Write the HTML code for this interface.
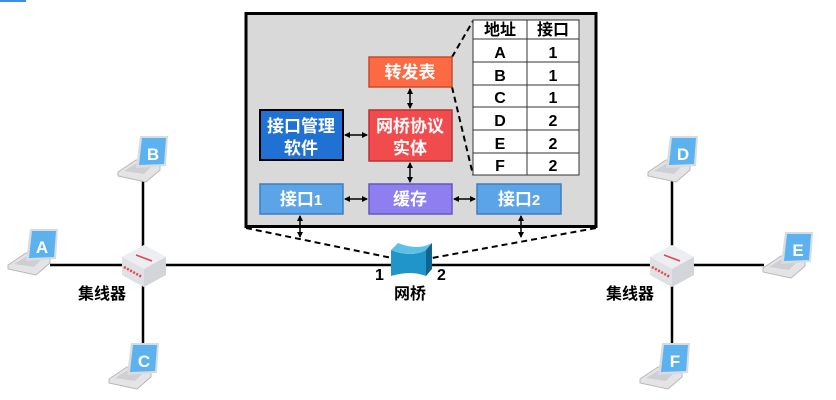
<!DOCTYPE html>
<html><head><meta charset="utf-8"><style>
body{margin:0;background:#fff;}
svg{display:block;font-family:"Liberation Sans","Noto Sans CJK SC",sans-serif;}
</style></head><body>
<svg width="836" height="400" viewBox="0 0 836 400">
<defs>
<marker id="ah" markerWidth="6" markerHeight="6" refX="5" refY="3" orient="auto-start-reverse" markerUnits="userSpaceOnUse"><path d="M0,0 L6,3 L0,6 z" fill="#000"/></marker>
<g id="lap">
<polygon points="-22,36 -4,24 20,24 20,34 6,46 -22,40" fill="#e4e4e6" stroke="#b8b8bc" stroke-width="1"/>
<polygon points="-16,35 -3,27 15,27 4,38" fill="#cfcfd3"/>
<polygon points="0,0 28,0 26,30 -4,32" fill="#d8dbe0"/>
<polygon points="2,2 26,2 24,28 -1,29" fill="#5bb2ee"/>
</g>
<g id="hub">
<polygon points="-22,-8 0,-20 22,-8 22,10 0,22 -22,10" fill="#d4d5da"/>
<polygon points="-22,-8 0,-20 22,-8 0,4" fill="#eceef1"/>
<polygon points="-22,-8 0,4 0,22 -22,10" fill="#e0e1e5"/>
<line x1="-8" y1="-10" x2="8" y2="-4" stroke="#e0464e" stroke-width="1.5"/>
<line x1="-20" y1="2" x2="-2" y2="12" stroke="#e0464e" stroke-width="2.5" stroke-dasharray="2,1.5"/>
</g>
</defs>
<rect x="0" y="0" width="26" height="2" fill="#3a8ee6"/>
<g stroke="#000" stroke-width="2.5">
<line x1="50" y1="265" x2="764" y2="265"/>
<line x1="143" y1="180" x2="143" y2="345"/>
<line x1="672" y1="180" x2="672" y2="345"/>
</g>
<rect x="246" y="13.5" width="350" height="213" fill="#d9d9d9" stroke="#000" stroke-width="3"/>
<g stroke="#000" stroke-width="2" stroke-dasharray="6,4" fill="none">
<line x1="246" y1="228" x2="392" y2="258"/>
<line x1="596" y1="228" x2="432" y2="258"/>
<line x1="452" y1="57" x2="473" y2="21"/>
<line x1="452" y1="87" x2="473" y2="175"/>
</g>
<g stroke="#333" stroke-width="1" fill="#fff">
<rect x="473" y="20" width="106" height="155"/>
<line x1="527" y1="20" x2="527" y2="175"/>
<line x1="473" y1="39" x2="579" y2="39"/>
<line x1="473" y1="62" x2="579" y2="62"/>
<line x1="473" y1="85" x2="579" y2="85"/>
<line x1="473" y1="107" x2="579" y2="107"/>
<line x1="473" y1="130" x2="579" y2="130"/>
<line x1="473" y1="153" x2="579" y2="153"/>
</g>
<g font-size="16" font-weight="bold" text-anchor="middle" fill="#000">
<text x="500" y="35">地址</text><text x="553" y="35">接口</text>
<text x="500" y="58">A</text><text x="553" y="58">1</text>
<text x="500" y="81">B</text><text x="553" y="81">1</text>
<text x="500" y="103">C</text><text x="553" y="103">1</text>
<text x="500" y="126">D</text><text x="553" y="126">2</text>
<text x="500" y="149">E</text><text x="553" y="149">2</text>
<text x="500" y="171">F</text><text x="553" y="171">2</text>
</g>
<rect x="369" y="57" width="83" height="30" fill="#fb6a43" stroke="#c94a2a" stroke-width="1.5"/>
<rect x="369" y="110" width="83" height="51" fill="#f24b4e" stroke="#b83035" stroke-width="1.5"/>
<rect x="260" y="110" width="83" height="50" fill="#1f72d4" stroke="#000" stroke-width="2"/>
<rect x="260" y="184" width="83" height="30" fill="#5ca4e8" stroke="#3d7fc0" stroke-width="1.5"/>
<rect x="369" y="184" width="83" height="30" fill="#8e7ef0" stroke="#6656c0" stroke-width="1.5"/>
<rect x="477" y="184" width="84" height="30" fill="#5ca4e8" stroke="#3d7fc0" stroke-width="1.5"/>
<g fill="#fff" font-size="17" font-weight="bold" text-anchor="middle">
<text x="410" y="78">转发表</text>
<text x="410" y="132">网桥协议</text><text x="410" y="154">实体</text>
<text x="301" y="132">接口管理</text><text x="301" y="154">软件</text>
<text x="301" y="205">接口<tspan font-size="15">1</tspan></text>
<text x="410" y="205">缓存</text>
<text x="519" y="205">接口<tspan font-size="15">2</tspan></text>
</g>
<g stroke="#000" stroke-width="1.5" marker-start="url(#ah)" marker-end="url(#ah)">
<line x1="410" y1="89" x2="410" y2="108"/>
<line x1="410" y1="163" x2="410" y2="182"/>
<line x1="345" y1="135" x2="367" y2="135"/>
<line x1="345" y1="199" x2="367" y2="199"/>
<line x1="454" y1="199" x2="475" y2="199"/>
<line x1="300" y1="216" x2="300" y2="237"/>
<line x1="521" y1="216" x2="521" y2="237"/>
</g>
<path d="M391,250 Q411,258 426,250 L426,276 Q411,270 391,276 Z" fill="#1f95c9"/>
<path d="M391,250 L398,243 Q418,251 432,243 L426,250 Q411,258 391,250 Z" fill="#5fc0e6"/>
<path d="M426,250 L432,243 L432,269 L426,276 Z" fill="#13648d"/>
<g font-size="16" font-weight="bold" fill="#000">
<text x="375" y="280">1</text><text x="437" y="280">2</text>
<text x="410" y="299" text-anchor="middle">网桥</text>
<text x="102" y="299" text-anchor="middle">集线器</text>
<text x="630" y="299" text-anchor="middle">集线器</text>
</g>
<use href="#hub" x="144" y="265"/>
<use href="#hub" x="672" y="265"/>
<use href="#lap" x="140" y="136"/>
<use href="#lap" x="30" y="229"/>
<use href="#lap" x="131" y="343"/>
<use href="#lap" x="670" y="136"/>
<use href="#lap" x="785" y="232"/>
<use href="#lap" x="662" y="343"/>
<g fill="#fff" font-size="17" font-weight="bold" text-anchor="middle">
<text x="153" y="160">B</text><text x="42" y="253">A</text><text x="144" y="367">C</text>
<text x="683" y="160">D</text><text x="798" y="256">E</text><text x="675" y="367">F</text>
</g>
</svg>
</body></html>
